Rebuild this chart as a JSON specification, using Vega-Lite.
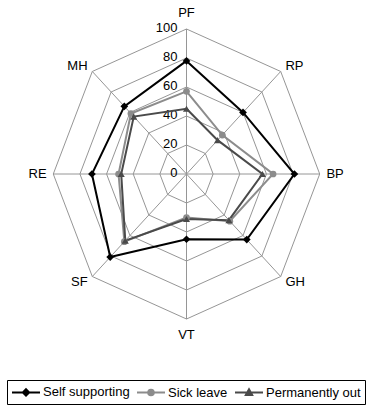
{
  "$schema": "https://vega.github.io/schema/vega-lite/v6.json",
  "width": 373,
  "height": 406,
  "padding": 0,
  "autosize": "none",
  "background": "white",
  "config": {"view": {"stroke": null}, "font": "Liberation Sans"},
  "datasets": {
    "series": [
      {"axis": "PF", "idx": 0, "group": "Self supporting", "value": 78},
      {"axis": "RP", "idx": 1, "group": "Self supporting", "value": 60},
      {"axis": "BP", "idx": 2, "group": "Self supporting", "value": 81},
      {"axis": "GH", "idx": 3, "group": "Self supporting", "value": 64},
      {"axis": "VT", "idx": 4, "group": "Self supporting", "value": 45},
      {"axis": "SF", "idx": 5, "group": "Self supporting", "value": 81},
      {"axis": "RE", "idx": 6, "group": "Self supporting", "value": 71},
      {"axis": "MH", "idx": 7, "group": "Self supporting", "value": 66},
      {"axis": "PF", "idx": 0, "group": "Sick leave", "value": 57},
      {"axis": "RP", "idx": 1, "group": "Sick leave", "value": 38},
      {"axis": "BP", "idx": 2, "group": "Sick leave", "value": 65},
      {"axis": "GH", "idx": 3, "group": "Sick leave", "value": 46},
      {"axis": "VT", "idx": 4, "group": "Sick leave", "value": 30},
      {"axis": "SF", "idx": 5, "group": "Sick leave", "value": 66},
      {"axis": "RE", "idx": 6, "group": "Sick leave", "value": 51},
      {"axis": "MH", "idx": 7, "group": "Sick leave", "value": 59},
      {"axis": "PF", "idx": 0, "group": "Permanently out", "value": 45},
      {"axis": "RP", "idx": 1, "group": "Permanently out", "value": 33},
      {"axis": "BP", "idx": 2, "group": "Permanently out", "value": 57},
      {"axis": "GH", "idx": 3, "group": "Permanently out", "value": 45},
      {"axis": "VT", "idx": 4, "group": "Permanently out", "value": 31},
      {"axis": "SF", "idx": 5, "group": "Permanently out", "value": 65},
      {"axis": "RE", "idx": 6, "group": "Permanently out", "value": 49},
      {"axis": "MH", "idx": 7, "group": "Permanently out", "value": 56}
    ],
    "axes": [
      {"axis": "PF", "idx": 0}, {"axis": "RP", "idx": 1}, {"axis": "BP", "idx": 2}, {"axis": "GH", "idx": 3},
      {"axis": "VT", "idx": 4}, {"axis": "SF", "idx": 5}, {"axis": "RE", "idx": 6}, {"axis": "MH", "idx": 7}
    ],
    "levels": [
      {"level": 0}, {"level": 20}, {"level": 40}, {"level": 60}, {"level": 80}, {"level": 100}
    ]
  },
  "layer": [
    {
      "data": {"name": "axes"},
      "transform": [
        {"calculate": "[20,40,60,80,100]", "as": "lvls"},
        {"flatten": ["lvls"], "as": ["level"]},
        {"calculate": "datum.level * sin(datum.idx * PI / 4)", "as": "gx"},
        {"calculate": "datum.level * cos(datum.idx * PI / 4)", "as": "gy"}
      ],
      "mark": {"type": "line", "interpolate": "linear-closed", "stroke": "#969696", "strokeWidth": 1},
      "encoding": {
        "x": {"field": "gx", "type": "quantitative", "scale": {"domain": [-128.8, 125.4]}, "axis": null},
        "y": {"field": "gy", "type": "quantitative", "scale": {"domain": [-157.5, 119.3]}, "axis": null},
        "detail": {"field": "level", "type": "nominal"},
        "order": {"field": "idx", "type": "quantitative"}
      }
    },
    {
      "data": {"name": "axes"},
      "transform": [
        {"calculate": "100 * sin(datum.idx * PI / 4)", "as": "sx"},
        {"calculate": "100 * cos(datum.idx * PI / 4)", "as": "sy"},
        {"calculate": "0", "as": "zero"}
      ],
      "mark": {"type": "rule", "stroke": "#969696", "strokeWidth": 1},
      "encoding": {
        "x": {"field": "zero", "type": "quantitative"},
        "y": {"field": "zero", "type": "quantitative"},
        "x2": {"field": "sx"},
        "y2": {"field": "sy"}
      }
    },
    {
      "data": {"name": "levels"},
      "transform": [{"calculate": "0", "as": "zero"}],
      "mark": {"type": "text", "align": "right", "baseline": "middle", "dx": -9, "dy": -1, "fontSize": 13, "font": "Liberation Sans", "color": "black"},
      "encoding": {
        "x": {"field": "zero", "type": "quantitative"},
        "y": {"field": "level", "type": "quantitative"},
        "text": {"field": "level", "type": "nominal"}
      }
    },
    {
      "data": {"name": "axes"},
      "transform": [
        {"calculate": "datum.idx % 4 === 0 ? 111 : 105", "as": "r"},
        {"calculate": "datum.r * sin(datum.idx * PI / 4)", "as": "lx"},
        {"calculate": "datum.r * cos(datum.idx * PI / 4)", "as": "ly"}
      ],
      "mark": {"type": "text", "baseline": "middle", "fontSize": 13, "font": "Liberation Sans", "color": "black",
        "align": {"expr": "datum.idx % 4 === 0 ? 'center' : (datum.idx < 4 ? 'left' : 'right')"}},
      "encoding": {
        "x": {"field": "lx", "type": "quantitative"},
        "y": {"field": "ly", "type": "quantitative"},
        "text": {"field": "axis", "type": "nominal"}
      }
    },
    {
      "data": {"name": "series"},
      "transform": [
        {"calculate": "datum.value * sin(datum.idx * PI / 4)", "as": "px"},
        {"calculate": "datum.value * cos(datum.idx * PI / 4)", "as": "py"}
      ],
      "mark": {"type": "line", "interpolate": "linear-closed", "strokeWidth": 2},
      "encoding": {
        "x": {"field": "px", "type": "quantitative"},
        "y": {"field": "py", "type": "quantitative"},
        "color": {"field": "group", "type": "nominal",
          "scale": {"domain": ["Self supporting", "Sick leave", "Permanently out"], "range": ["#000000", "#8c8c8c", "#4a4a4a"]},
          "legend": {
            "orient": "none", "legendX": 7, "legendY": 380, "direction": "horizontal", "columns": 3,
            "title": null, "strokeColor": "black", "padding": 4, "labelFontSize": 13, "labelFont": "Liberation Sans",
            "labelColor": "black", "labelOffset": 16, "columnPadding": 3, "symbolSize": 196, "rowPadding": 0,
            "encode": {"symbols": {"update": {
              "shape": {"signal": "datum.value === 'Self supporting' ? 'M-1,0H3M1,-0.45L1.45,0L1,0.45L0.55,0Z' : (datum.value === 'Sick leave' ? 'M-1,0H3M1.4,0A0.4,0.4 0 1,1 0.6,0A0.4,0.4 0 1,1 1.4,0Z' : 'M-1,0H3M1,-0.45L1.45,0.35L0.55,0.35Z')"},
              "stroke": {"scale": "color", "field": "value"},
              "fill": {"scale": "color", "field": "value"},
              "strokeWidth": {"value": 2},
              "size": {"value": 196},
              "opacity": {"value": 1}
            }}}
          }},
        "order": {"field": "idx", "type": "quantitative"}
      }
    },
    {
      "data": {"name": "series"},
      "transform": [
        {"filter": "datum.group === 'Self supporting'"},
        {"calculate": "datum.value * sin(datum.idx * PI / 4)", "as": "px"},
        {"calculate": "datum.value * cos(datum.idx * PI / 4)", "as": "py"}
      ],
      "mark": {"type": "point", "filled": true, "opacity": 1, "shape": "diamond", "size": 60, "color": "#000000"},
      "encoding": {
        "x": {"field": "px", "type": "quantitative"},
        "y": {"field": "py", "type": "quantitative"}
      }
    },
    {
      "data": {"name": "series"},
      "transform": [
        {"filter": "datum.group === 'Sick leave'"},
        {"calculate": "datum.value * sin(datum.idx * PI / 4)", "as": "px"},
        {"calculate": "datum.value * cos(datum.idx * PI / 4)", "as": "py"}
      ],
      "mark": {"type": "point", "filled": true, "opacity": 1, "shape": "circle", "size": 45, "color": "#8c8c8c"},
      "encoding": {
        "x": {"field": "px", "type": "quantitative"},
        "y": {"field": "py", "type": "quantitative"}
      }
    },
    {
      "data": {"name": "series"},
      "transform": [
        {"filter": "datum.group === 'Permanently out'"},
        {"calculate": "datum.value * sin(datum.idx * PI / 4)", "as": "px"},
        {"calculate": "datum.value * cos(datum.idx * PI / 4)", "as": "py"}
      ],
      "mark": {"type": "point", "filled": true, "opacity": 1, "shape": "triangle-up", "size": 50, "color": "#4a4a4a"},
      "encoding": {
        "x": {"field": "px", "type": "quantitative"},
        "y": {"field": "py", "type": "quantitative"}
      }
    }
  ]
}
